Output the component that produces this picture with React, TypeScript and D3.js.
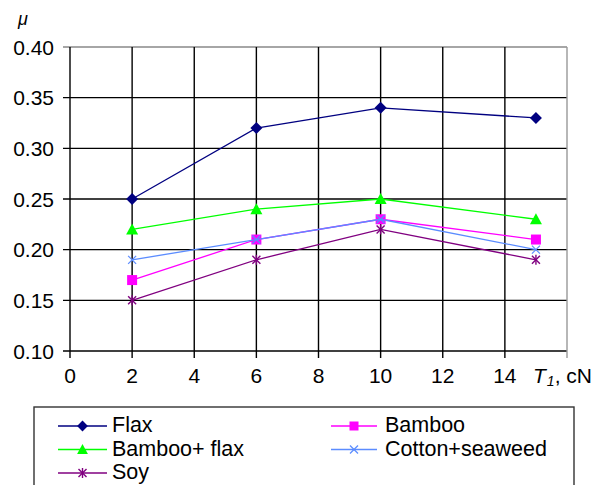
import * as d3 from 'd3';

const xValues = [2, 6, 10, 15];
const flax = [0.25, 0.32, 0.34, 0.33];
const bamboo = [0.17, 0.21, 0.23, 0.21];
const bambooFlax = [0.22, 0.24, 0.25, 0.23];
const cottonSeaweed = [0.19, 0.21, 0.23, 0.2];
const soy = [0.15, 0.19, 0.22, 0.19];
const xTicks = [0, 2, 4, 6, 8, 10, 12, 14];
const yTicks = [0.1, 0.15, 0.2, 0.25, 0.3, 0.35, 0.4];

type Marker = 'diamond' | 'square' | 'triangle' | 'x' | 'star';

const series: { name: string; values: number[]; color: string; marker: Marker }[] = [
  { name: 'Flax', values: flax, color: '#000080', marker: 'diamond' },
  { name: 'Bamboo', values: bamboo, color: '#ff00ff', marker: 'square' },
  { name: 'Bamboo+ flax', values: bambooFlax, color: '#00ff00', marker: 'triangle' },
  { name: 'Cotton+seaweed', values: cottonSeaweed, color: '#5b8cff', marker: 'x' },
  { name: 'Soy', values: soy, color: '#800080', marker: 'star' },
];

const FONT = 'Arial, "Liberation Sans", sans-serif';

function MarkerShape({ type, x, y, color, s = 1 }: { type: Marker; x: number; y: number; color: string; s?: number }) {
  if (type === 'diamond') {
    const r = 6 * s;
    return <path d={`M${x},${y - r}L${x + r},${y}L${x},${y + r}L${x - r},${y}Z`} fill={color} />;
  }
  if (type === 'square') {
    const r = 5 * s;
    return <rect x={x - r} y={y - r} width={2 * r} height={2 * r} fill={color} />;
  }
  if (type === 'triangle') {
    const r = 6 * s;
    return <path d={`M${x},${y - r}L${x + r},${y + r - 1}L${x - r},${y + r - 1}Z`} fill={color} />;
  }
  if (type === 'x') {
    return (
      <g stroke={color} strokeWidth={1.2}>
        <line x1={x - 4} y1={y - 4} x2={x + 4} y2={y + 4} />
        <line x1={x - 4} y1={y + 4} x2={x + 4} y2={y - 4} />
      </g>
    );
  }
  return (
    <g stroke={color} strokeWidth={1.4}>
      <line x1={x - 4} y1={y - 4} x2={x + 4} y2={y + 4} />
      <line x1={x - 4} y1={y + 4} x2={x + 4} y2={y - 4} />
      <line x1={x} y1={y - 5} x2={x} y2={y + 5} />
    </g>
  );
}

export default function App() {
  const width = 604;
  const height = 485;
  const x = d3.scaleLinear().domain([0, 16]).range([70, 567]);
  const y = d3.scaleLinear().domain([0.1, 0.4]).range([351, 47]);
  const line = d3
    .line<number>()
    .x((_, i) => x(xValues[i]))
    .y((d) => y(d));
  const gridX = d3.range(0, 17, 2);

  const legendRows = [
    [series[0], series[1]],
    [series[2], series[3]],
    [series[4]],
  ];

  return (
    <svg
      width={width}
      height={height}
      style={{ position: 'absolute', left: 0, top: 0, background: '#fff' }}
      fontFamily={FONT}
    >
      {/* grid */}
      {yTicks.map((t) => (
        <line
          key={'gy' + t}
          x1={63}
          x2={x(16)}
          y1={y(t)}
          y2={y(t)}
          stroke={t === 0.4 ? '#888' : '#000'}
          strokeWidth={1.4}
        />
      ))}
      {gridX.map((t) => (
        <line
          key={'gx' + t}
          x1={x(t)}
          x2={x(t)}
          y1={y(0.4)}
          y2={y(0.1) + 7}
          stroke={t === 16 ? '#999' : '#000'}
          strokeWidth={1.4}
        />
      ))}
      {/* tick labels */}
      {yTicks.map((t) => (
        <text key={'yl' + t} x={54} y={y(t) + 7.5} fontSize={21} textAnchor="end" fill="#000">
          {t.toFixed(2)}
        </text>
      ))}
      {xTicks.map((t) => (
        <text key={'xl' + t} x={x(t)} y={383} fontSize={21} textAnchor="middle" fill="#000">
          {t}
        </text>
      ))}
      <text x={533} y={383} fontSize={21} fill="#000">
        <tspan fontStyle="italic">T</tspan>
        <tspan fontStyle="italic" fontSize={14} dy={3} dx={1}>1</tspan>
        <tspan dy={-3}>, cN</tspan>
      </text>
      <text x={18} y={25} fontSize={18} fontStyle="italic" fill="#000">μ</text>

      {/* series */}
      {series.map((s) => (
        <g key={s.name}>
          <path d={line(s.values) ?? ''} fill="none" stroke={s.color} strokeWidth={1.3} />
          {s.values.map((v, i) => (
            <MarkerShape key={i} type={s.marker} x={x(xValues[i])} y={y(v)} color={s.color} />
          ))}
        </g>
      ))}

      {/* legend */}
      <rect x={34} y={407} width={540} height={95} fill="#fff" stroke="#333" strokeWidth={1.4} />
      {legendRows.map((row, ri) =>
        row.map((s, ci) => {
          const lx = ci === 0 ? 58 : 331;
          const lw = ci === 0 ? 49 : 46;
          const ly = 426 + ri * 23.5;
          return (
            <g key={s.name}>
              <line x1={lx} x2={lx + lw} y1={ly} y2={ly} stroke={s.color} strokeWidth={1.3} />
              <MarkerShape type={s.marker} x={lx + lw / 2} y={ly} color={s.color} s={0.9} />
              <text x={ci === 0 ? 112 : 385} y={ly + 6} fontSize={21.5} fill="#000">
                {s.name}
              </text>
            </g>
          );
        })
      )}
    </svg>
  );
}
